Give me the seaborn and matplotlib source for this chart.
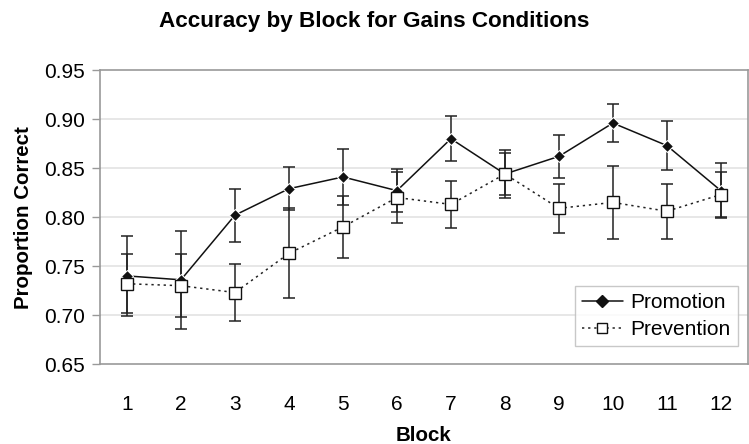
import numpy as np
import pandas as pd
import matplotlib
matplotlib.use("Agg")
import matplotlib.pyplot as plt
import seaborn as sns
from matplotlib.lines import Line2D

blocks = [1, 2, 3, 4, 5, 6, 7, 8, 9, 10, 11, 12]
promotion = [0.740, 0.736, 0.802, 0.829, 0.841, 0.827, 0.880, 0.844, 0.862, 0.896, 0.873, 0.827]
promotion_err = [0.041, 0.050, 0.027, 0.022, 0.029, 0.022, 0.023, 0.024, 0.022, 0.019, 0.025, 0.028]
prevention = [0.732, 0.730, 0.723, 0.763, 0.790, 0.820, 0.813, 0.844, 0.809, 0.815, 0.806, 0.823]
prevention_err = [0.030, 0.032, 0.029, 0.046, 0.032, 0.026, 0.024, 0.021, 0.025, 0.037, 0.028, 0.023]
yticks = [0.65, 0.70, 0.75, 0.80, 0.85, 0.90, 0.95]

sns.set_style("white")
plt.rcParams["font.family"] = ["Liberation Sans", "DejaVu Sans"]
plt.rcParams["text.color"] = "black"
plt.rcParams["axes.labelcolor"] = "black"
plt.rcParams["xtick.color"] = "black"
plt.rcParams["ytick.color"] = "black"

df = pd.DataFrame({
    "Block": blocks * 2,
    "Accuracy": promotion + prevention,
    "Condition": ["Promotion"] * 12 + ["Prevention"] * 12,
})

fig = plt.figure(figsize=(7.49, 4.44), dpi=100)
ax = fig.add_axes([0.1335, 0.18, 0.865, 0.662])

# gridlines first so data sits on top
for y in yticks[1:-1]:
    ax.axhline(y, color="#e3e3e3", lw=1.2, zorder=0)

# error bars
ax.errorbar(blocks, promotion, yerr=promotion_err, fmt="none", ecolor="#222222",
            elinewidth=1.1, capsize=4.5, capthick=1.1, zorder=2)
ax.errorbar(blocks, prevention, yerr=prevention_err, fmt="none", ecolor="#222222",
            elinewidth=1.1, capsize=4.5, capthick=1.1, zorder=2)

sns.lineplot(data=df, x="Block", y="Accuracy", hue="Condition", style="Condition",
             palette={"Promotion": "#111111", "Prevention": "#222222"},
             dashes={"Promotion": "", "Prevention": (1.5, 2.5)},
             markers={"Promotion": "D", "Prevention": "s"},
             markersize=7, linewidth=1.1, ax=ax, legend=False, zorder=3)

# prevention squares are hollow
lines = ax.get_lines()
lines[-1].set_markerfacecolor("white")
lines[-1].set_markeredgecolor("#111111")
lines[-1].set_markeredgewidth(1.0)
lines[-1].set_markersize(8)
lines[-2].set_markersize(6.5)

ax.set_xlim(0.5, 12.5)
ax.set_ylim(0.65, 0.95)
ax.set_yticks(yticks)
ax.set_yticklabels([f"{v:.2f}" for v in yticks], fontsize=15)
ax.set_xticks(blocks)
ax.set_xticklabels([str(b) for b in blocks], fontsize=15)
ax.set_xticks(np.arange(0.5, 13, 1), minor=True)
ax.tick_params(axis="x", which="major", length=0, pad=22)
ax.tick_params(axis="x", which="minor", length=6, color="#999999", width=1)
ax.tick_params(axis="y", length=6, color="#999999", width=1, pad=5, left=True)

for s in ax.spines.values():
    s.set_color("#999999")
    s.set_linewidth(1.2)

ax.set_xlabel("Block", fontsize=14.8, fontweight="bold", labelpad=9)
ax.set_ylabel("Proportion Correct", fontsize=14.8, fontweight="bold", labelpad=8)
fig.suptitle("Accuracy by Block for Gains Conditions", fontsize=16.2, fontweight="bold",
             x=0.5, y=0.975)

handles = [
    Line2D([], [], color="#111111", lw=1.1, marker="D", markersize=6.5),
    Line2D([], [], color="#222222", lw=1.1, ls=(0, (1.5, 2.5)), marker="s",
           markersize=7.5, markerfacecolor="white", markeredgecolor="#111111"),
]
leg = ax.legend(handles, ["Promotion", "Prevention"], loc="lower right",
                bbox_to_anchor=(0.984, 0.062), fontsize=15, frameon=True,
                fancybox=False, edgecolor="#bbbbbb", handlelength=2.0,
                borderpad=0.32, labelspacing=0.4, handletextpad=0.35,
                borderaxespad=0)
leg.get_frame().set_linewidth(1.0)

fig.savefig("out.png", dpi=100)
